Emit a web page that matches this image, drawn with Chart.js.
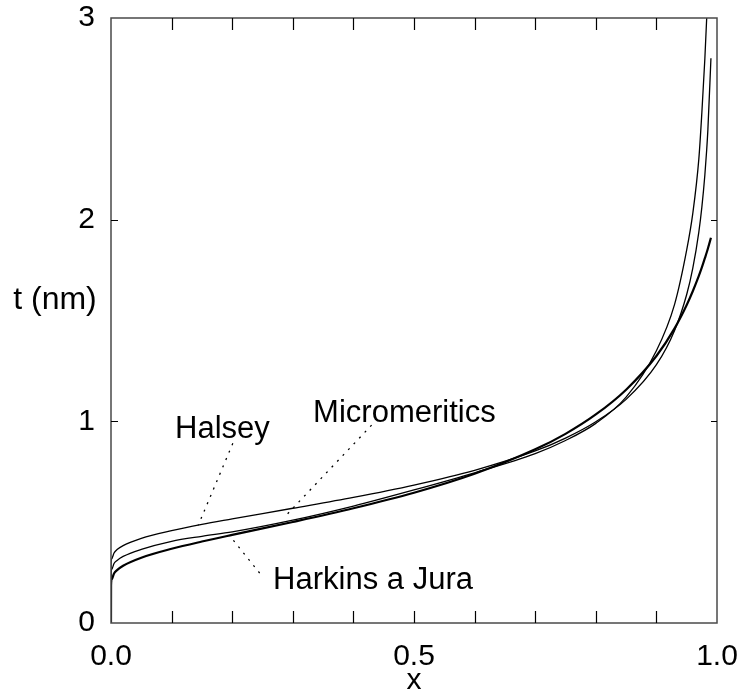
<!DOCTYPE html>
<html lang="en">
<head>
  <meta charset="UTF-8" />
  <title>t-curves</title>
  <script src="https://cdn.jsdelivr.net/npm/chart.js"></script>
  <style>
    html, body { margin: 0; padding: 0; background: #fff; }
  </style>
</head>
<body>
  <canvas id="tplot" width="739" height="691"></canvas>

  <script>
    // relative pressure values and thickness t (nm) for each curve
    const xValues = [0, 0.0001, 0.001, 0.005, 0.01, 0.02, 0.05, 0.1, 0.15, 0.2, 0.3, 0.4, 0.5, 0.6, 0.7, 0.75,
                     0.8, 0.85, 0.9, 0.93, 0.95, 0.96, 0.97, 0.975, 0.98, 0.983, 0.985, 0.99];
    const halsey = [0, 0.289, 0.318, 0.347, 0.364, 0.384, 0.420, 0.458, 0.489, 0.516, 0.569, 0.623, 0.684, 0.757, 0.853, 0.917,
                    0.998, 1.109, 1.281, 1.451, 1.629, 1.758, 1.938, 2.062, 2.223, 2.347, 2.449, 2.80];
    const micromeritics = [0, 0.24, 0.265, 0.295, 0.31, 0.33, 0.365, 0.405, 0.43, 0.452, 0.51, 0.58, 0.66, 0.745, 0.84, 0.905,
                           0.99, 1.12, 1.35, 1.58, 1.85, 2.03, 2.3, 2.53, 2.8, 3.0, 3.15, null];
    const harkinsJura = [0, 0.186, 0.215, 0.245, 0.262, 0.284, 0.324, 0.368, 0.404, 0.437, 0.501, 0.569, 0.646, 0.740, 0.861, 0.938,
                         1.034, 1.157, 1.324, 1.461, 1.577, 1.645, 1.721, 1.763, 1.809, 1.837, 1.857, 1.910];

    const xLabelled = [0, 0.5, 1];
    const yTicks = [1, 2];

    // curve names with label anchor and dotted leader (data units)
    const notes = [
      { text: 'Halsey',         at: [0.1057, 0.916], from: [0.201, 0.891], to: [0.144, 0.485] },
      { text: 'Micromeritics',  at: [0.3335, 0.997], from: [0.430, 0.981], to: [0.289, 0.534] },
      { text: 'Harkins a Jura', at: [0.2675, 0.167], from: [0.202, 0.410], to: [0.246, 0.245] }
    ];

    const FONT = 'Liberation Sans, Arial, sans-serif';

    const toPoints = (ys) => xValues.map((x, i) => ({ x: x, y: ys[i] }));

    const curve = (label, ys, width) => ({
      label: label,
      data: toPoints(ys),
      showLine: true,
      borderColor: '#000',
      borderWidth: width,
      pointRadius: 0,
      cubicInterpolationMode: 'monotone',
      fill: false
    });

    const framePlugin = {
      id: 'frame',
      afterDraw(chart) {
        const { ctx, chartArea: a, scales } = chart;
        const xs = scales.x, ys = scales.y;
        ctx.save();

        // box round the plot
        ctx.strokeStyle = '#4a4a4a';
        ctx.lineWidth = 1.5;
        ctx.strokeRect(a.left, a.top, a.right - a.left, a.bottom - a.top);

        // inward tick marks
        ctx.strokeStyle = '#000';
        ctx.lineWidth = 1.2;
        ctx.beginPath();
        for (let i = 1; i < 10; i++) {
          const px = Math.round(xs.getPixelForValue(i / 10)) + 0.5;
          ctx.moveTo(px, a.bottom); ctx.lineTo(px, a.bottom - 12);
          ctx.moveTo(px, a.top); ctx.lineTo(px, a.top + 12);
        }
        yTicks.forEach(v => {
          const py = Math.round(ys.getPixelForValue(v)) + 0.5;
          ctx.moveTo(a.left, py); ctx.lineTo(a.left + 7, py);
          ctx.moveTo(a.right, py); ctx.lineTo(a.right - 6, py);
        });
        ctx.stroke();

        // horizontal y title
        ctx.fillStyle = '#000';
        ctx.font = '32px ' + FONT;
        ctx.textAlign = 'center';
        ctx.textBaseline = 'middle';
        ctx.fillText('t (nm)', 55, 300);

        // curve names with dotted leaders
        ctx.font = '31px ' + FONT;
        ctx.textAlign = 'left';
        ctx.textBaseline = 'alphabetic';
        ctx.lineWidth = 1.3;
        ctx.setLineDash([2, 6]);
        notes.forEach(n => {
          ctx.fillText(n.text, xs.getPixelForValue(n.at[0]), ys.getPixelForValue(n.at[1]));
          ctx.beginPath();
          ctx.moveTo(xs.getPixelForValue(n.from[0]), ys.getPixelForValue(n.from[1]));
          ctx.lineTo(xs.getPixelForValue(n.to[0]), ys.getPixelForValue(n.to[1]));
          ctx.stroke();
        });
        ctx.restore();
      }
    };

    new Chart(document.getElementById('tplot'), {
      type: 'scatter',
      data: {
        datasets: [
          curve('Halsey', halsey, 1.3),
          curve('Micromeritics', micromeritics, 1.3),
          curve('Harkins a Jura', harkinsJura, 2.2)
        ]
      },
      options: {
        responsive: false,
        animation: false,
        devicePixelRatio: 1,
        layout: { padding: { top: 18, right: 22, bottom: 0, left: 0 } },
        plugins: {
          legend: { display: false },
          tooltip: { enabled: false }
        },
        scales: {
          x: {
            type: 'linear',
            min: 0,
            max: 1,
            grid: { display: false, drawTicks: false },
            border: { display: false },
            ticks: {
              stepSize: 0.1,
              autoSkip: false,
              maxRotation: 0,
              padding: 19,
              color: '#000',
              font: { family: FONT, size: 30, lineHeight: 1 },
              callback: (v) => xLabelled.some(t => Math.abs(t - v) < 1e-6) ? Number(v).toFixed(1) : ''
            },
            title: {
              display: true,
              text: 'x',
              color: '#000',
              padding: { top: 0, bottom: -5 },
              font: { family: FONT, size: 30, lineHeight: 1 }
            },
            afterFit: (scale) => {
              scale.height = 68;
              scale.paddingLeft = 0;
              scale.paddingRight = 0;
            }
          },
          y: {
            min: 0,
            max: 3,
            grid: { display: false, drawTicks: false },
            border: { display: false },
            ticks: {
              stepSize: 1,
              padding: 16,
              color: '#000',
              font: { family: FONT, size: 30, lineHeight: 1 }
            },
            afterFit: (scale) => {
              scale.width = 111;
              scale.paddingTop = 0;
              scale.paddingBottom = 0;
            }
          }
        }
      },
      plugins: [framePlugin]
    });
  </script>
</body>
</html>
